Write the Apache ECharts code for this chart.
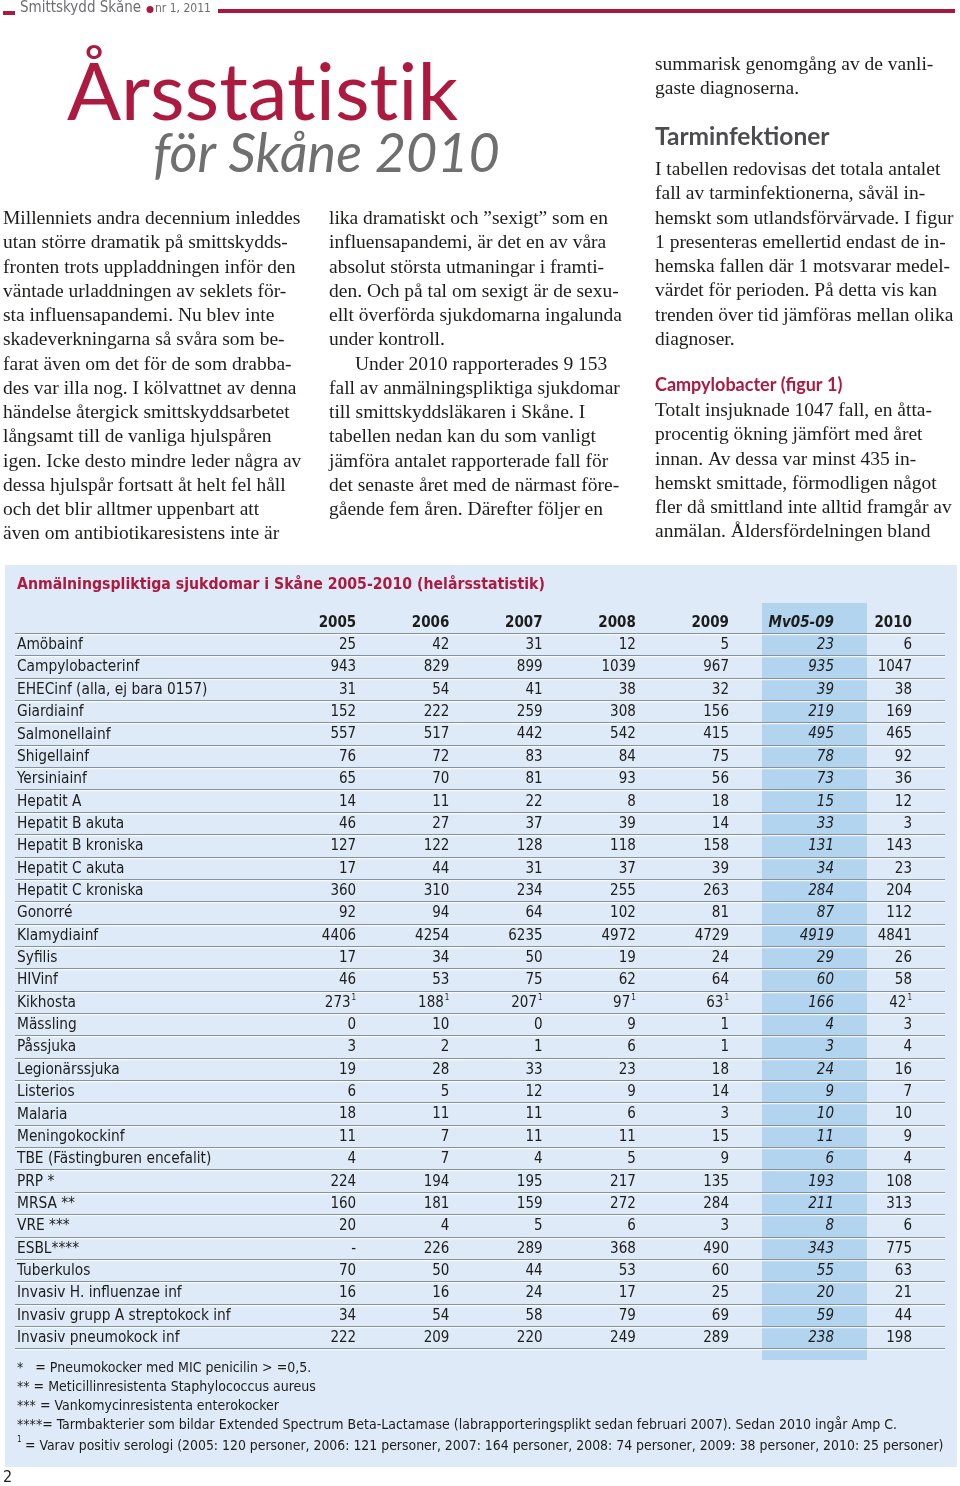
<!DOCTYPE html>
<html><head><meta charset="utf-8">
<script src="https://cdn.jsdelivr.net/npm/echarts@6/dist/echarts.min.js"></script>
<style>html,body{margin:0;padding:0;background:#fff}#c{width:960px;height:1486px}</style>
</head><body><div id="c"></div>
<script>
// ---------------- DATA ----------------
const diseases = ['Amöbainf','Campylobacterinf','EHECinf (alla, ej bara 0157)','Giardiainf','Salmonellainf','Shigellainf','Yersiniainf','Hepatit A','Hepatit B akuta','Hepatit B kroniska','Hepatit C akuta','Hepatit C kroniska','Gonorré','Klamydiainf','Syfilis','HIVinf','Kikhosta','Mässling','Påssjuka','Legionärssjuka','Listerios','Malaria','Meningokockinf','TBE (Fästingburen encefalit)','PRP *','MRSA **','VRE ***','ESBL****','Tuberkulos','Invasiv H. influenzae inf','Invasiv grupp A streptokock inf','Invasiv pneumokock inf'];
const columnLabels = ['2005','2006','2007','2008','2009','Mv05-09','2010'];
const v2005 = [25,943,31,152,557,76,65,14,46,127,17,360,92,4406,17,46,273,0,3,19,6,18,11,4,224,160,20,null,70,16,34,222];
const v2006 = [42,829,54,222,517,72,70,11,27,122,44,310,94,4254,34,53,188,10,2,28,5,11,7,7,194,181,4,226,50,16,54,209];
const v2007 = [31,899,41,259,442,83,81,22,37,128,31,234,64,6235,50,75,207,0,1,33,12,11,11,4,195,159,5,289,44,24,58,220];
const v2008 = [12,1039,38,308,542,84,93,8,39,118,37,255,102,4972,19,62,97,9,6,23,9,6,11,5,217,272,6,368,53,17,79,249];
const v2009 = [5,967,32,156,415,75,56,18,14,158,39,263,81,4729,24,64,63,1,1,18,14,3,15,9,135,284,3,490,60,25,69,289];
const mv0509 = [23,935,39,219,495,78,73,15,33,131,34,284,87,4919,29,60,166,4,3,24,9,10,11,6,193,211,8,343,55,20,59,238];
const v2010 = [6,1047,38,169,465,92,36,12,3,143,23,204,112,4841,26,58,42,3,4,16,7,10,9,4,108,313,6,775,63,21,44,198];
const serologyRow = 'Kikhosta';        // values marked with footnote 1
const serologyColumns = ['2005','2006','2007','2008','2009','2010'];

const footnotes = [
  '*   = Pneumokocker med MIC penicilin > =0,5.',
  '** = Meticillinresistenta Staphylococcus aureus',
  '*** = Vankomycinresistenta enterokocker',
  '****= Tarmbakterier som bildar Extended Spectrum Beta-Lactamase (labrapporteringsplikt sedan februari 2007). Sedan 2010 ingår Amp C.'
];
const footnote1 = '= Varav positiv serologi (2005: 120 personer, 2006: 121 personer, 2007: 164 personer, 2008: 74 personer, 2009: 38 personer, 2010: 25 personer)';

const colLeft = ['Millenniets andra decennium inleddes','utan större dramatik på smittskydds-','fronten trots uppladdningen inför den','väntade urladdningen av seklets för-','sta influensapandemi. Nu blev inte','skadeverkningarna så svåra som be-','farat även om det för de som drabba-','des var illa nog. I kölvattnet av denna','händelse återgick smittskyddsarbetet','långsamt till de vanliga hjulspåren','igen. Icke desto mindre leder några av','dessa hjulspår fortsatt åt helt fel håll','och det blir alltmer uppenbart att','även om antibiotikaresistens inte är'];
const colMid = ['lika dramatiskt och ”sexigt” som en','influensapandemi, är det en av våra','absolut största utmaningar i framti-','den. Och på tal om sexigt är de sexu-','ellt överförda sjukdomarna ingalunda','under kontroll.','Under 2010 rapporterades 9 153','fall av anmälningspliktiga sjukdomar','till smittskyddsläkaren i Skåne. I','tabellen nedan kan du som vanligt','jämföra antalet rapporterade fall för','det senaste året med de närmast före-','gående fem åren. Därefter följer en'];
const colRightA = ['summarisk genomgång av de vanli-','gaste diagnoserna.'];
const colRightB = ['I tabellen redovisas det totala antalet','fall av tarminfektionerna, såväl in-','hemskt som utlandsförvärvade. I figur','1 presenteras emellertid endast de in-','hemska fallen där 1 motsvarar medel-','värdet för perioden. På detta vis kan','trenden över tid jämföras mellan olika','diagnoser.'];
const colRightC = ['Totalt insjuknade 1047 fall, en åtta-','procentig ökning jämfört med året','innan. Av dessa var minst 435 in-','hemskt smittade, förmodligen något','fler då smittland inte alltid framgår av','anmälan. Åldersfördelningen bland'];

// ---------------- STYLE ----------------
const RED = '#ad1a3f';
const INK = '#1d1d1b';
const F_SERIF = "'Liberation Serif','Times New Roman',serif";
const F_COND = "'Liberation Sans Narrow','Arial Narrow','DejaVu Sans Condensed',sans-serif";
const F_HEAD = "Lato,'Open Sans',sans-serif";
const CELL_PAD = 33;
const ROW_TOP = 610.6, ROW_H = 737.7;

const rowCats = [''].concat(diseases);
const allCols = [v2005, v2006, v2007, v2008, v2009, mv0509, v2010];

function cellText(ci, ri) {
  if (ri === 0) return columnLabels[ci];
  const v = allCols[ci][ri - 1];
  const s = (v === null || v === undefined) ? '-' : String(v);
  if (diseases[ri - 1] === serologyRow && serologyColumns.indexOf(columnLabels[ci]) >= 0) {
    return '{v|' + s + '}{s|1}';
  }
  return '{v|' + s + '}';
}

function makeCellSeries(gridIdx, colIdxs) {
  const data = [], texts = [], italics = [], heads = [];
  colIdxs.forEach((ci, local) => {
    for (let ri = 0; ri < rowCats.length; ri++) {
      data.push([local, ri]);
      texts.push(cellText(ci, ri));
      italics.push(columnLabels[ci] === 'Mv05-09');
      heads.push(ri === 0);
    }
  });
  return {
    type: 'custom', xAxisIndex: gridIdx, yAxisIndex: gridIdx, data: data, silent: true, z: 5,
    renderItem: function (params, api) {
      const p = api.coord([api.value(0), api.value(1)]);
      const bw = api.size([1, 0])[0];
      const i = params.dataIndex;
      const fs = italics[i] ? 'italic' : 'normal';
      const fw = heads[i] ? 'bold' : 'normal';
      const t = heads[i] ? '{v|' + texts[i] + '}' : texts[i];
      return {
        type: 'text', x: p[0] + bw / 2 - CELL_PAD, y: p[1] + 1,
        style: {
          text: t, align: 'right', verticalAlign: 'middle',
          rich: {
            v: { fontFamily: F_COND, fontSize: 15, fontStyle: fs, fontWeight: fw, fill: INK, lineHeight: 17 },
            s: { fontFamily: F_COND, fontSize: 8, fill: INK, verticalAlign: 'top', lineHeight: 17, padding: [0, 0, 0, 1] }
          }
        }
      };
    }
  };
}

function textLines(arr, x, y0, lh, font, color, indents) {
  return arr.map((t, i) => ({
    type: 'text', x: x + ((indents && indents[i]) || 0), y: y0 + i * lh, z: 10,
    style: { text: t, font: font, fill: color, verticalAlign: 'middle', align: 'left' }
  }));
}

const serifFont = '19.5px ' + F_SERIF;
const LH = 24.25;

let graphics = [
  // header strip
  { type: 'rect', shape: { x: 3, y: 11, width: 12, height: 4 }, style: { fill: RED } },
  { type: 'text', x: 20, y: 8, style: { text: 'Smittskydd Skåne', font: '15px ' + F_COND, fill: '#6d6e71', verticalAlign: 'middle' } },
  { type: 'circle', shape: { cx: 150, cy: 9.5, r: 3.5 }, style: { fill: RED } },
  { type: 'text', x: 155, y: 9, style: { text: 'nr 1, 2011', font: '12px ' + F_COND, fill: '#6d6e71', verticalAlign: 'middle' } },
  { type: 'rect', shape: { x: 218, y: 9, width: 737, height: 4 }, style: { fill: '#a8183c' } },
  // title
  { type: 'text', x: 67, y: 94, style: { text: 'Årsstat\u200Cist\u200Cik', font: '80px ' + F_HEAD, fill: RED, verticalAlign: 'middle' } },
  { type: 'text', x: 153, y: 155, style: { text: 'för Skåne 2010', font: 'italic 54px ' + F_HEAD, fill: '#6f6f70', verticalAlign: 'middle' } },
  // right column headings
  { type: 'text', x: 655, y: 137, style: { text: 'Tarminfektioner', font: 'bold 24.5px ' + F_HEAD, fill: '#4d4d4f', verticalAlign: 'middle' } },
  { type: 'text', x: 655, y: 385, style: { text: 'Campylobacter (figur 1)', font: 'bold 18px ' + F_HEAD, fill: RED, verticalAlign: 'middle' } },
  // table background + highlight band
  { type: 'rect', z: -2, shape: { x: 5, y: 565, width: 952, height: 902 }, style: { fill: '#deeaf7' } },
  { type: 'rect', z: -1, shape: { x: 762, y: 603, width: 105, height: 757 }, style: { fill: '#b3d4ef' } },
  { type: 'text', x: 17, y: 585, style: { text: 'Anmälningspliktiga sjukdomar i Skåne 2005-2010 (helårsstatistik)', font: 'bold 15.7px ' + F_COND, fill: RED, verticalAlign: 'middle' } },
  // page number
  { type: 'text', x: 3, y: 1478, style: { text: '2', font: '16px ' + F_COND, fill: INK, verticalAlign: 'middle' } },
  // footnote 1 marker
  { type: 'text', x: 17, y: 1440, style: { text: '1', font: '8px ' + F_COND, fill: INK, verticalAlign: 'middle' } },
  { type: 'text', x: 25, y: 1446, style: { text: footnote1, font: '13.9px ' + F_COND, fill: INK, verticalAlign: 'middle' } }
];
graphics = graphics
  .concat(textLines(colLeft, 3, 219, LH, serifFont, INK))
  .concat(textLines(colMid, 329, 219, LH, serifFont, INK, { 6: 26 }))
  .concat(textLines(colRightA, 655, 65, LH, serifFont, INK))
  .concat(textLines(colRightB, 655, 170, LH, serifFont, INK))
  .concat(textLines(colRightC, 655, 411, LH, serifFont, INK))
  .concat(textLines(footnotes, 17, 1368, 19, '14px ' + F_COND, INK));

const grids = [
  { left: 15, top: ROW_TOP, width: 930, height: ROW_H },
  { left: 296, top: ROW_TOP, width: 466, height: ROW_H },
  { left: 762, top: ROW_TOP, width: 105, height: ROW_H },
  { left: 867, top: ROW_TOP, width: 78, height: ROW_H }
].map(g => Object.assign({ outerBoundsMode: 'none', containLabel: false }, g));

const xAxes = [
  { gridIndex: 0, type: 'category', data: [''], show: false },
  { gridIndex: 1, type: 'category', data: columnLabels.slice(0, 5), show: false },
  { gridIndex: 2, type: 'category', data: columnLabels.slice(5, 6), show: false },
  { gridIndex: 3, type: 'category', data: columnLabels.slice(6, 7), show: false }
];
const yAxes = [0, 1, 2, 3].map(g => ({
  gridIndex: g, type: 'category', data: rowCats, inverse: true, show: false
}));

// row separator lines + row names (category labels of the y axis)
const rowLineSeries = {
  type: 'custom', xAxisIndex: 0, yAxisIndex: 0, silent: true, z: 3,
  data: rowCats.map((_, i) => [0, i]),
  renderItem: function (params, api) {
    const r = api.value(1);
    const p = api.coord([0, r]);
    const bh = api.size([0, 1])[1];
    const y = Math.round(p[1] + bh / 2) + 0.5;
    const cs = params.coordSys;
    return { type: 'group', children: [
      { type: 'line', shape: { x1: cs.x, y1: y, x2: cs.x + cs.width, y2: y }, style: { stroke: '#8593a0', lineWidth: 1.2 } },
      { type: 'line', shape: { x1: cs.x, y1: y + 1.2, x2: cs.x + cs.width, y2: y + 1.2 }, style: { stroke: '#ffffff', lineWidth: 1 } },
      { type: 'text', x: cs.x + 2, y: p[1] + 1, style: { text: rowCats[r], fontFamily: F_COND, fontSize: 15.3, fill: INK, align: 'left', verticalAlign: 'middle' } }
    ] };
  }
};

const chart = echarts.init(document.getElementById('c'), null, { renderer: 'canvas', width: 960, height: 1486 });
chart.setOption({
  animation: false,
  backgroundColor: '#ffffff',
  grid: grids, xAxis: xAxes, yAxis: yAxes,
  graphic: { elements: graphics },
  series: [
    rowLineSeries,
    makeCellSeries(1, [0, 1, 2, 3, 4]),
    makeCellSeries(2, [5]),
    makeCellSeries(3, [6])
  ]
});
</script></body></html>
